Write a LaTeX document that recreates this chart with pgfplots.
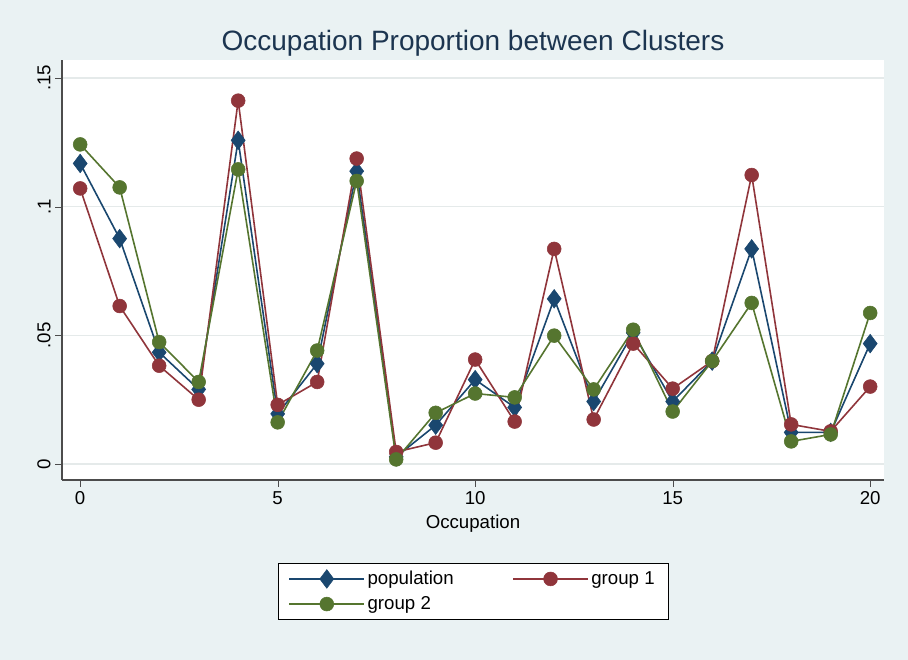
\documentclass[border=0pt]{standalone}
\usepackage{pgfplots}
\pgfplotsset{compat=1.18}
\usepackage{fontspec}
\setmainfont{Liberation Sans}
\definecolor{bg}{HTML}{EAF2F3}
\definecolor{c1}{HTML}{1A476F}
\definecolor{c2}{HTML}{90353B}
\definecolor{c3}{HTML}{55752F}
\definecolor{tc}{HTML}{1C3550}
\begin{document}
\begin{tikzpicture}
\fill[bg] (0,0) rectangle (681pt,495pt);
\begin{axis}[at={(46.5pt,135pt)}, anchor=south west, scale only axis,
 width=616.5pt, height=315pt,
 xmin=-0.46, xmax=20.35, ymin=-0.0062, ymax=0.157,
 axis x line*=bottom, axis y line*=left,
 axis line style={black!70, line width=0.8pt},
 axis background/.style={fill=white},
 xtick={0,5,10,15,20}, ytick={0,0.05,0.1,0.15},
 yticklabels={0,.05,.1,.15},
 yticklabel style={rotate=90, anchor=south},
 ymajorgrids, grid style={bg!80!gray!60, line width=1pt},
 tick style={black!70}, tick align=outside,
 major tick length=5pt,
 ticklabel style={font=\fontsize{14}{16}\selectfont},
 /pgf/number format/assume math mode=true,
 xlabel={Occupation}, xlabel style={font=\fontsize{14}{16}\selectfont, yshift=-1pt},
 title={Occupation Proportion between Clusters},
 title style={font=\fontsize{21}{24}\selectfont, text=tc, yshift=-7pt},
 legend columns=2,
 legend style={at={(0.5,-0.2655)}, anchor=center, draw=black, fill=white,
   font=\fontsize{14}{16}\selectfont, inner xsep=8pt, inner ysep=4pt, row sep=4pt,
   /tikz/every even column/.append style={column sep=42pt},
   nodes={text depth=0.25ex, text height=1.8ex}},
 legend cell align=left,
 legend image code/.code={
   \draw[#1] (0pt,0pt) -- (56pt,0pt);
   \draw[#1, only marks] plot coordinates {(28pt,0pt)};},
 every axis plot/.append style={line width=1.2pt},
]
\addplot[c1, mark=diamond*, mark size=7pt, mark options={fill=c1, line width=0.4pt}] coordinates {
(0,0.1168)(1,0.0876)(2,0.0434)(3,0.029)(4,0.1258)(5,0.0195)(6,0.039)(7,0.1138)(8,0.0028)(9,0.0151)(10,0.0328)
(11,0.022)(12,0.0642)(13,0.0243)(14,0.051)(15,0.0243)(16,0.040)(17,0.0836)(18,0.0123)(19,0.0123)(20,0.0468)};
\addlegendentry{population}
\addplot[c2, mark=*, mark size=5.2pt, mark options={fill=c2, line width=0.4pt}] coordinates {
(0,0.1071)(1,0.0614)(2,0.0382)(3,0.025)(4,0.1412)(5,0.023)(6,0.0319)(7,0.1187)(8,0.0047)(9,0.0083)(10,0.0406)
(11,0.0165)(12,0.0836)(13,0.0173)(14,0.0468)(15,0.0293)(16,0.040)(17,0.1123)(18,0.0154)(19,0.0127)(20,0.0301)};
\addlegendentry{group 1}
\addplot[c3, mark=*, mark size=5.2pt, mark options={fill=c3, line width=0.4pt}] coordinates {
(0,0.1242)(1,0.1075)(2,0.0474)(3,0.0319)(4,0.1145)(5,0.0162)(6,0.0441)(7,0.110)(8,0.0018)(9,0.0199)(10,0.0274)
(11,0.0259)(12,0.0499)(13,0.029)(14,0.0522)(15,0.0204)(16,0.040)(17,0.0626)(18,0.0088)(19,0.0115)(20,0.0587)};
\addlegendentry{group 2}
\end{axis}
\end{tikzpicture}
\end{document}
